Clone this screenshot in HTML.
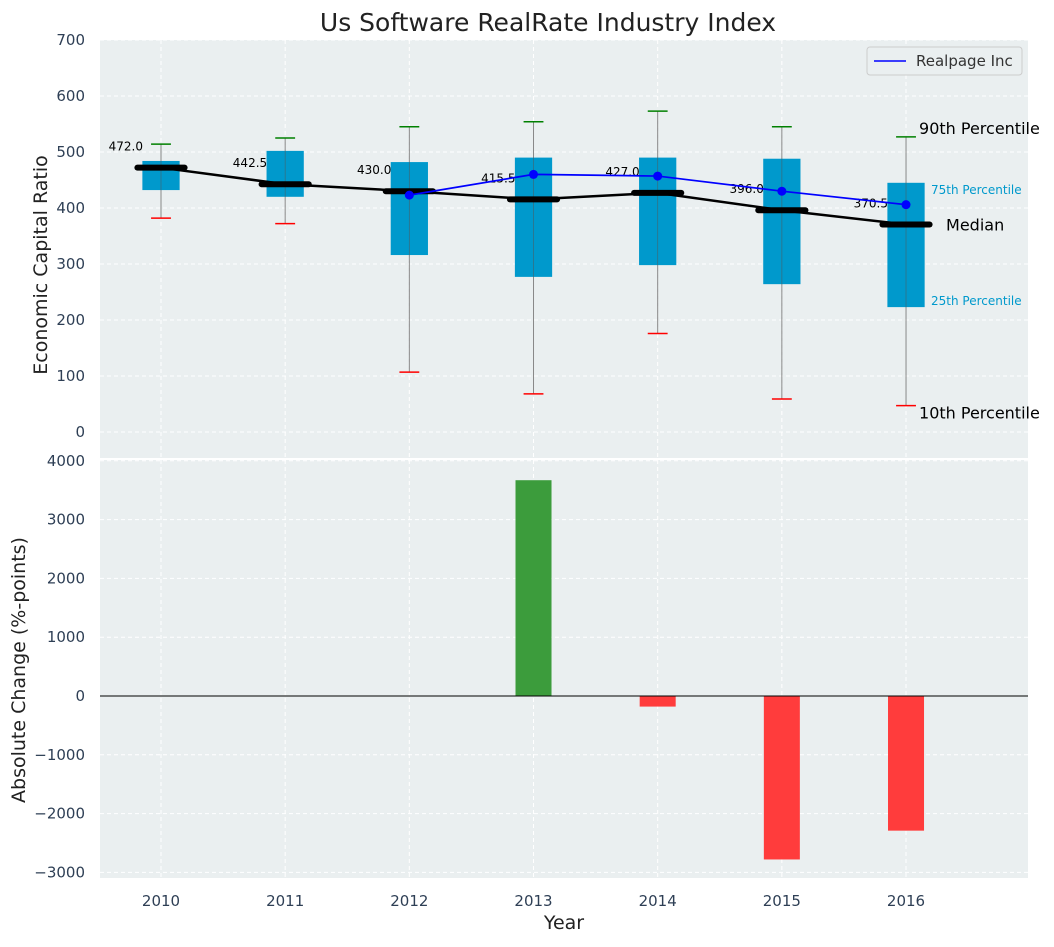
<!DOCTYPE html>
<html><head><meta charset="utf-8"><style>
body{margin:0;background:#fff;font-family:"Liberation Sans","DejaVu Sans",sans-serif;}
svg text{font-family:"DejaVu Sans","Liberation Sans",sans-serif;}
</style></head><body>
<svg id="c" width="1054" height="942" xmlns="http://www.w3.org/2000/svg"></svg>
<script>
const years=[2010,2011,2012,2013,2014,2015,2016];
const p10=[382,372,107,68,176,59,47];
const p25=[432,420,316,277,298,264,223];
const med=[472,442.5,430,415.5,427,396,370.5];
const p75=[484,502,482,490,490,488,445];
const p90=[514,525,545,554,573,545,527];
const realpage=[null,null,423,460,457,430,406];
const change=[0,0,0,3670,-180,-2780,-2290];
const topTicks=[0,100,200,300,400,500,600,700];
const botTicks=[-3000,-2000,-1000,0,1000,2000,3000,4000];

const svg=document.getElementById('c');
const NS='http://www.w3.org/2000/svg';
function el(t,a,txt){const e=document.createElementNS(NS,t);for(const k in a)e.setAttribute(k,a[k]);if(txt!==undefined)e.textContent=txt;svg.appendChild(e);return e;}
const L=100,R=1028;
const x=v=>161+(v-2010)*124.17;
const yT=v=>432-v*0.56;
const yB=v=>696-v*0.0588;

let e;
e=el('rect',{x:L,y:40,width:R-L,height:418,fill:'#eaeff0'});

e=el('rect',{x:L,y:460,width:R-L,height:418,fill:'#eaeff0'});


topTicks.forEach(t=>{el('line',{x1:L,x2:R,y1:yT(t),y2:yT(t),stroke:'#fff','stroke-dasharray':'4,3','stroke-width':1});
 e=el('text',{x:85,y:yT(t)+5,'text-anchor':'end','font-size':15,fill:'#2e3f55'},t);
 });
botTicks.forEach(t=>{el('line',{x1:L,x2:R,y1:yB(t),y2:yB(t),stroke:'#fff','stroke-dasharray':'4,3','stroke-width':1});
 e=el('text',{x:85,y:yB(t)+5,'text-anchor':'end','font-size':15,fill:'#2e3f55'},t<0?'\u2212'+(-t):t);
 });
years.forEach(yr=>{
 el('line',{x1:x(yr),x2:x(yr),y1:40,y2:458,stroke:'#fff','stroke-dasharray':'4,3'});
 el('line',{x1:x(yr),x2:x(yr),y1:460,y2:878,stroke:'#fff','stroke-dasharray':'4,3'});
 e=el('text',{x:x(yr),y:906,'text-anchor':'middle','font-size':15,fill:'#2e3f55'},yr);
 
});

const bw=0.15*124.17, mw=0.19*124.17, cw=0.08*124.17;
years.forEach((yr,i)=>{
 const cx=x(yr);
 e=el('line',{x1:cx,x2:cx,y1:yT(p10[i]),y2:yT(p90[i]),stroke:'#888','stroke-width':1});
 
 e=el('rect',{x:cx-bw,y:yT(p75[i]),width:2*bw,height:yT(p25[i])-yT(p75[i]),fill:'#0099cc'});
 
 el('line',{x1:cx,x2:cx,y1:yT(p25[i]),y2:yT(p75[i]),stroke:'#555','stroke-width':0.8,opacity:0.6});
 e=el('line',{x1:cx-cw,x2:cx+cw,y1:yT(p90[i]),y2:yT(p90[i]),stroke:'green','stroke-width':1.5});
 
 e=el('line',{x1:cx-cw,x2:cx+cw,y1:yT(p10[i]),y2:yT(p10[i]),stroke:'red','stroke-width':1.5});
 
});
e=el('polyline',{points:years.map((yr,i)=>x(yr)+','+yT(med[i])).join(' '),fill:'none',stroke:'#000','stroke-width':2.5});

years.forEach((yr,i)=>{
 e=el('line',{x1:x(yr)-mw,x2:x(yr)+mw,y1:yT(med[i]),y2:yT(med[i]),stroke:'#000','stroke-width':6,'stroke-linecap':'round'});
 
 e=el('text',{x:x(yr)-18,y:yT(med[i])-17,'text-anchor':'end','font-size':12,fill:'#000'},med[i].toFixed(1));
 
});
const rp=years.map((yr,i)=>realpage[i]==null?null:[x(yr),yT(realpage[i])]).filter(p=>p);
e=el('polyline',{points:rp.map(p=>p.join(',')).join(' '),fill:'none',stroke:'blue','stroke-width':1.7});

rp.forEach(p=>{e=el('circle',{cx:p[0],cy:p[1],r:4.5,fill:'blue'});
 });

const lx=x(2016);
function ann(t,xx,yy,fs,col,nm){e=el('text',{x:xx,y:yy,'font-size':fs,fill:col},t);}
ann('90th Percentile',lx+13,yT(p90[6])-3,16,'#000','p90-annotation');
ann('75th Percentile',lx+25,yT(p75[6])+11,12,'#0099cc','p75-annotation');
ann('Median',lx+40,yT(med[6])+6,16,'#000','median-annotation');
ann('25th Percentile',lx+25,yT(p25[6])-2,12,'#0099cc','p25-annotation');
ann('10th Percentile',lx+13,yT(p10[6])+13,16,'#000','p10-annotation');

e=el('rect',{x:867,y:47,width:155,height:28,fill:'#eaeff0',stroke:'#ccc',rx:3});

el('line',{x1:874,x2:906,y1:61,y2:61,stroke:'blue','stroke-width':1.5});
e=el('text',{x:916,y:66,'font-size':15,fill:'#333'},'Realpage Inc');


const barW=0.145*124.17;
years.forEach((yr,i)=>{
 if(change[i]===0)return;
 const y0=yB(0),y1=yB(change[i]);
 e=el('rect',{x:x(yr)-barW,y:Math.min(y0,y1),width:2*barW,height:Math.abs(y1-y0),fill:change[i]>0?'#3c9c3c':'#ff3c3c'});
 
});
el('line',{x1:L,x2:R,y1:yB(0),y2:yB(0),stroke:'#000','stroke-width':1});

e=el('text',{x:548,y:31,'text-anchor':'middle','font-size':25,fill:'#222'},'Us Software RealRate Industry Index');

e=el('text',{x:47,y:265,'text-anchor':'middle','font-size':19,fill:'#222',transform:'rotate(-90 47 265)'},'Economic Capital Ratio');

e=el('text',{x:25,y:670,'text-anchor':'middle','font-size':19,fill:'#222',transform:'rotate(-90 25 670)'},'Absolute Change (%-points)');

e=el('text',{x:564,y:929,'text-anchor':'middle','font-size':19,fill:'#222'},'Year');

</script>
</body></html>
